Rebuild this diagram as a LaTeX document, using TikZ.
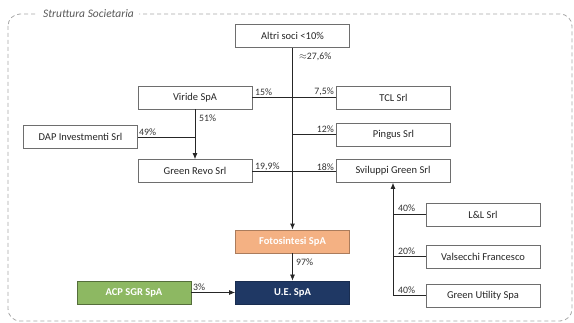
\documentclass[tikz,border=0pt]{standalone}
\usepackage{fontspec}
\setmainfont{Carlito}
\usetikzlibrary{arrows.meta}
\definecolor{boxline}{HTML}{6E6E6E}
\definecolor{fotoc}{HTML}{F4B183}
\definecolor{uec}{HTML}{1F3864}
\definecolor{acpc}{HTML}{8DB862}
\definecolor{framec}{HTML}{A6A6A6}
\definecolor{titlec}{HTML}{595959}
\tikzset{
  ent/.style={draw=boxline, line width=0.8pt, fill=white, minimum width=114pt, minimum height=23pt, inner sep=0pt, font=\fontsize{10.5}{12}\selectfont, text=black!85},
  colbox/.style={ent, text=white, font=\fontsize{10.5}{12}\selectfont\bfseries},
  pct/.style={font=\fontsize{9.8}{11}\selectfont, text=black!80, inner sep=1pt},
  link/.style={line width=0.7pt, draw=black!85},
  arr/.style={link, -{Latex[length=6pt,width=5pt]}},
}
\begin{document}
\begin{tikzpicture}[x=1pt,y=-1pt]
\useasboundingbox (0,0) rectangle (574,323);
\draw[framec, line width=0.8pt, dash pattern=on 4pt off 3pt, rounded corners=12pt] (8,14) rectangle (572,321);
\node[fill=white, inner xsep=5pt, inner ysep=1pt, font=\fontsize{11.5}{13}\selectfont\itshape, text=titlec] (title) at (88.5,14) {Struttura Societaria};

\node[ent] (alt) at (292.5,36) {Altri soci <10\%};
\node[ent] (viride) at (195,97.5) {Viride SpA};
\node[ent] (tcl) at (393.5,97.5) {TCL Srl};
\node[ent] (pingus) at (393.5,134.5) {Pingus Srl};
\node[ent] (dap) at (80.5,137) {DAP Investmenti Srl};
\node[ent] (revo) at (195,171) {Green Revo Srl};
\node[ent] (svil) at (393,171) {Sviluppi Green Srl};
\node[colbox, fill=fotoc, draw=fotoc!70!black] (foto) at (292.5,241.5) {Fotosintesi SpA};
\node[colbox, fill=uec, draw=uec!80!black] (ue) at (292.5,292.5) {U.E. SpA};
\node[colbox, fill=acpc, draw=acpc!60!black] (acp) at (134,292.5) {ACP SGR SpA};
\node[ent] (ll) at (483,214.5) {L\&L Srl};
\node[ent] (val) at (483,256.5) {Valsecchi Francesco};
\node[ent] (gu) at (483,295.5) {Green Utility Spa};

% main trunk
\draw[arr, line width=1pt] (alt.south) -- (foto.north);
\coordinate (jv) at (viride.east -| alt.south);
\coordinate (jt) at (tcl.west -| alt.south);
\coordinate (jp) at (pingus.west -| alt.south);
\coordinate (jr) at (revo.east -| alt.south);
\coordinate (js) at (svil.west -| alt.south);
\draw[link] (viride.east) -- (jv);
\draw[link] (tcl.west) -- (jt);
\draw[link] (pingus.west) -- (jp);
\draw[link] (revo.east) -- (jr);
\draw[link] (svil.west) -- (js);

% Viride -> Green Revo
\draw[arr] (viride.south) -- (revo.north);
\coordinate (jd) at (dap.east -| viride.south);
\draw[link] (dap.east) -- (jd);

% Fotosintesi -> UE, ACP -> UE
\draw[arr] (foto.south) -- (ue.north);
\draw[arr] (acp.east) -- (ue.west);

% Sviluppi branch
\coordinate (jg) at (gu.west -| svil.south);
\coordinate (jl) at (ll.west -| svil.south);
\coordinate (jva) at (val.west -| svil.south);
\draw[arr] (jg) -- (svil.south);
\draw[link] (gu.west) -- (jg);
\draw[link] (val.west) -- (jva);
\draw[link] (ll.west) -- (jl);

% labels
\node[pct, anchor=west] (l276) at (298,57) {$\approx$27,6\%};
\node[pct, anchor=south west] (l15) at (254,96.5) {15\%};
\node[pct, anchor=south east] (l75) at (335,96.5) {7,5\%};
\node[pct, anchor=south east] (l12) at (335,133.5) {12\%};
\node[pct, anchor=south west] (l49) at (138,136.5) {49\%};
\node[pct, anchor=west] (l51) at (198,118) {51\%};
\node[pct, anchor=south west] (l199) at (254,171.5) {19,9\%};
\node[pct, anchor=south east] (l18) at (335,171.5) {18\%};
\node[pct, anchor=west] (l97) at (295,262) {97\%};
\node[pct, anchor=south west] (l3) at (192,291.5) {3\%};
\node[pct, anchor=south west] (l40a) at (397,212.5) {40\%};
\node[pct, anchor=south west] (l20) at (397,255.5) {20\%};
\node[pct, anchor=south west] (l40b) at (397,294.5) {40\%};
\end{tikzpicture}
\end{document}
